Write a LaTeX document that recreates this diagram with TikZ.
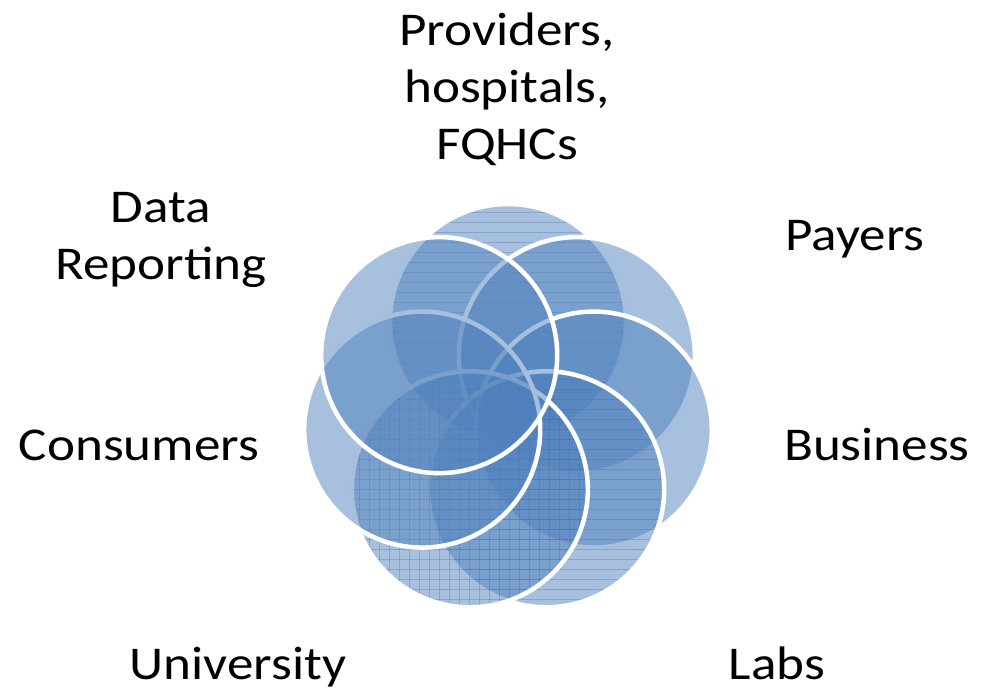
\documentclass[tikz,border=0pt]{standalone}
\usepackage{fontspec}
\setmainfont{Carlito}[FakeStretch=1.13]
\usepackage{xcolor}
\usetikzlibrary{positioning}
\definecolor{vennblue}{HTML}{4F81BD}

\begin{document}
\begin{tikzpicture}
	[x=1pt,y=1pt,
	ring/.style={circle,minimum size=236pt,inner sep=0pt,fill=vennblue,fill opacity=0.5,draw=white,line width=4.5pt},
	hatchline/.style={draw=vennblue!80!black,draw opacity=0.3,line width=0.8pt},
	nolines/.style={},
	hlines/.style={path picture={
		\foreach \k in {-12,...,12}
			\draw[hatchline] ([yshift=\k*10pt]path picture bounding box.west) -- ([yshift=\k*10pt]path picture bounding box.east);}},
	crosslines/.style={path picture={
		\foreach \k in {-12,...,12}{
			\draw[hatchline] ([yshift=\k*10pt]path picture bounding box.west) -- ([yshift=\k*10pt]path picture bounding box.east);
			\draw[hatchline] ([xshift=\k*10pt]path picture bounding box.south) -- ([xshift=\k*10pt]path picture bounding box.north);}}},
	lbl/.style={font=\fontsize{47}{57}\selectfont,align=center,inner sep=0pt,anchor=base}]
	\useasboundingbox (0,0) rectangle (986,691);
	\coordinate (mid) at (508,281);
	\foreach \ang/\pat [count=\i] in {90/hlines,38.57/nolines,-12.86/nolines,-64.29/hlines,-115.71/crosslines,-167.14/nolines,141.43/nolines}
		\node[ring,\pat] (c\i) at ([shift={(\ang:88)}]mid) {};
	\node[lbl] (prov) at (507,531) {Providers,\\hospitals,\\FQHCs};
	\node[lbl] (payers) at (855,440) {Payers};
	\node[lbl] (business) at (877,230) {Business};
	\node[lbl] (labs) at (777,11) {Labs};
	\node[lbl] (univ) at (238,11) {University};
	\node[lbl] (consumers) at (139,230) {Consumers};
	\node[lbl] (datarep) at (161,411) {Data\\Reporting};
\end{tikzpicture}
\end{document}
